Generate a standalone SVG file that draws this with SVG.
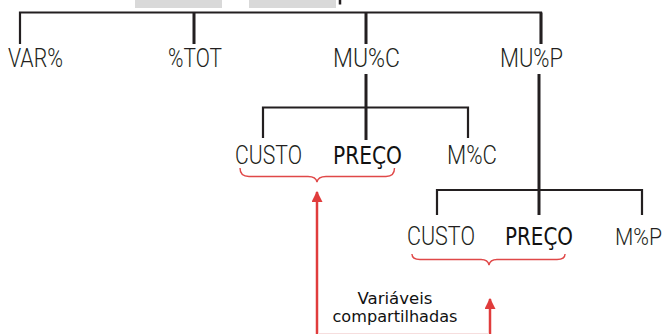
<svg xmlns="http://www.w3.org/2000/svg" width="667" height="334" viewBox="0 0 667 334">
<defs>
<style>
.ln{stroke:#231f20;fill:none;stroke-linecap:butt}
.t{font-family:Roboto,"Liberation Sans",Arial,sans-serif;font-weight:300;font-size:25px;fill:#231f20}
.b{font-family:"DejaVu Sans","Liberation Sans",sans-serif;font-size:24px;fill:#111}
.br{stroke:#e04848;stroke-width:1.4;fill:none}
.ar{stroke:#e03c3c;stroke-width:2.5;fill:none}
.lb{font-family:"DejaVu Sans","Liberation Sans",sans-serif;font-size:16px;fill:#111}
</style>
<marker id="ah" viewBox="0 0 10 10" refX="9" refY="5" markerWidth="4.4" markerHeight="4.4" orient="auto" markerUnits="strokeWidth">
<path d="M0,0 L10,5 L0,10 z" fill="#e03c3c"/>
</marker>
</defs>
<rect width="667" height="334" fill="#fff"/>
<rect x="135" y="0" width="87" height="8" fill="#d9d9d9"/>
<rect x="249" y="0" width="87" height="8" fill="#d9d9d9"/>
<path d="M340,0 V4.5" stroke="#231f20" stroke-width="2.5"/>
<g id="connectors">
<path class="ln" stroke-width="2.2" d="M20,44 V12.5 H541 V44"/>
<path class="ln" stroke-width="3" d="M194,12.5 V44 M366,12.5 V44"/>
<path class="ln" stroke-width="3" d="M541,12.5 V44"/>
<path class="ln" stroke-width="3" d="M366,74 V140"/>
<path class="ln" stroke-width="2.2" d="M263,138 V107.5 H468 V138"/>
<path class="ln" stroke-width="3" d="M539,74 V215"/>
<path class="ln" stroke-width="2.2" d="M437,215 V190 H642 V215"/>
<path class="br" d="M240,168 Q240,176.5 249,176.5 L308,176.5 Q316,176.5 317,182 Q318,176.5 326,176.5 L386,176.5 Q394.5,176.5 394.5,168"/>
<path class="br" d="M412,254 Q412,259.5 420,259.5 L481,259.5 Q488,259.5 489,265 Q490,259.5 497,259.5 L557,259.5 Q565,259.5 565,254"/>
<path class="ar" d="M317,334 V192" marker-end="url(#ah)"/>
<path class="ar" d="M490,334 V299" marker-end="url(#ah)"/>
<path d="M318,333.5 H489" stroke="#f6dede" stroke-width="1"/>
</g>
<g id="var"><text class="t" x="8" y="67" textLength="55" lengthAdjust="spacingAndGlyphs">VAR%</text></g>
<g id="tot"><text class="t" x="168" y="67" textLength="54" lengthAdjust="spacingAndGlyphs">%TOT</text></g>
<g id="muc"><text class="t" x="333" y="67" textLength="67" lengthAdjust="spacingAndGlyphs">MU%C</text></g>
<g id="mup"><text class="t" x="500" y="67" textLength="63" lengthAdjust="spacingAndGlyphs">MU%P</text></g>
<g id="custo1"><text class="t" x="235" y="164" textLength="67" lengthAdjust="spacingAndGlyphs">CUSTO</text></g>
<g id="preco1"><text class="b" x="333" y="164" textLength="69" lengthAdjust="spacingAndGlyphs">PREÇO</text></g>
<g id="mc"><text class="t" x="447" y="164" textLength="50" lengthAdjust="spacingAndGlyphs">M%C</text></g>
<g id="custo2"><text class="t" x="407" y="245" textLength="68" lengthAdjust="spacingAndGlyphs">CUSTO</text></g>
<g id="preco2"><text class="b" x="505" y="245" textLength="68" lengthAdjust="spacingAndGlyphs">PREÇO</text></g>
<g id="mp"><text class="t" x="615" y="245" style="font-size:23.5px" textLength="47" lengthAdjust="spacingAndGlyphs">M%P</text></g>
<g id="label">
<text class="lb" x="395" y="304" text-anchor="middle" textLength="75" lengthAdjust="spacingAndGlyphs">Variáveis</text>
<text class="lb" x="395" y="322" text-anchor="middle" textLength="125" lengthAdjust="spacingAndGlyphs">compartilhadas</text>
</g>
</svg>
